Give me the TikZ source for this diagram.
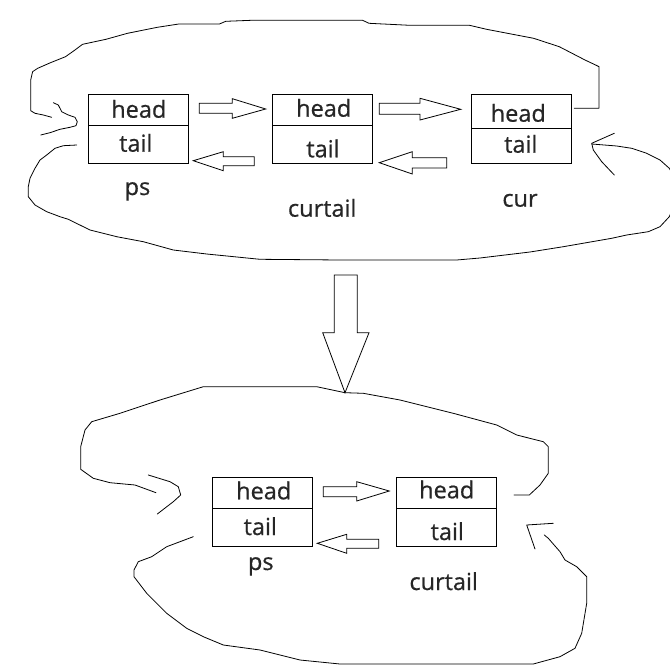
\documentclass[tikz,border=0pt]{standalone}
\usepackage{fontspec}
\setmainfont{Open Sans}[FakeBold=0.6]
\tikzset{
  cell/.style={draw, line width=0.8pt, minimum width=100pt, inner sep=0pt, outer sep=0pt},
  lbl/.style={anchor=base, inner sep=0pt, outer sep=0pt, text=black!85, font=\fontsize{23.5}{27}\selectfont},
  hand/.style={line width=0.8pt, line join=round, line cap=round},
  blockarrow/.style={draw, line width=0.8pt, line join=miter}
}
\begin{document}
\begin{tikzpicture}[x=1pt, y=-1pt]
\useasboundingbox (0,0) rectangle (670,669);
\fill[white] (0,0) rectangle (670,669);

% ---------- upper diagram: boxes ----------
\node[cell, minimum height=30.7pt, anchor=north west] (psH) at (88.3,94.3) {};
\node[cell, minimum height=38.3pt, anchor=north] (psT) at (psH.south) {};
\node[cell, minimum height=31.4pt, anchor=north west] (ctH) at (272.2,94.3) {};
\node[cell, minimum height=37.6pt, anchor=north] (ctT) at (ctH.south) {};
\node[cell, minimum height=34pt, anchor=north west] (cuH) at (471.5,94.3) {};
\node[cell, minimum height=35pt, anchor=north] (cuT) at (cuH.south) {};

\node[lbl] (psHt) at (138.8,117.7) {head};
\node[lbl] (psTt) at (135.8,151.7) {tail};
\node[lbl] (psL)  at (137.5,195) {ps};
\node[lbl] (ctHt) at (323.7,116.7) {head};
\node[lbl] (ctTt) at (323,157.3) {tail};
\node[lbl] (ctL)  at (322.2,216.7) {curtail};
\node[lbl] (cuHt) at (518.3,121.7) {head};
\node[lbl] (cuTt) at (520.8,152.7) {tail};
\node[lbl] (cuL)  at (520,206.7) {cur};

% block arrows (upper)
\draw[blockarrow] (199.3,103.3) -- (232.3,103.3) -- (232.3,98.7) -- (265.7,109) -- (232.3,118.3) -- (232.3,113.3) -- (199.3,113.3) -- cycle;
\draw[blockarrow] (254.3,156.7) -- (223.3,156.7) -- (223.3,151.7) -- (193.3,160.7) -- (223.3,170.7) -- (223.3,165.7) -- (254.3,165.7) -- cycle;
\draw[blockarrow] (379.3,103.3) -- (420,103.3) -- (420,98.3) -- (460.7,109.3) -- (420,120) -- (420,114.3) -- (379.3,114.3) -- cycle;
\draw[blockarrow] (446.7,157.7) -- (412.3,157.7) -- (412.3,151.7) -- (379.3,162.7) -- (412.3,174) -- (412.3,168) -- (446.7,168) -- cycle;

% freehand loops (upper)
\coordinate (topstart) at (574.3,108.3);
\coordinate (topend) at (51.7,117.3);
\draw[hand] (topstart) -- (599,108.3) -- (599,66.7) -- (595.6,65) -- (585,60) -- (559.3,46.7) -- (533.6,38.3)
  -- (486.6,29.3) -- (469.5,25.3) -- (409.7,25.3) -- (369,23.3) -- (362.6,20.3) -- (251.5,20.3) -- (225.8,21.3)
  -- (219.4,24) -- (178.8,24) -- (157.4,27.3) -- (127.5,33.3) -- (106,39.3) -- (82.6,44.3) -- (74,50.7)
  -- (65.5,56.7) -- (50.5,62.7) -- (37.7,68.3) -- (32.6,71.7) -- (30.7,80) -- (30.7,110.7) -- (35,113.3)
  -- (43.3,115) -- (topend);
\draw[hand] (53.3,102.7) -- (58.3,105) -- (61.7,111.7) -- (68.3,115) -- (75,117.3) -- (77.3,121.7) -- (76,125.7)
  -- (70,127.3) -- (60,129.3) -- (50,132.7) -- (40.7,135);

\coordinate (botstart) at (76.7,145);
\coordinate (botend) at (591.7,144);
\begin{scope}
\clip (0,0) rectangle (670,669);
\draw[hand] (botstart) -- (63.3,145.7) -- (55,148.3) -- (46.7,155) -- (40,160) -- (35,168.3) -- (30,178.3)
  -- (28.3,186.7) -- (28.3,196.7) -- (35,205) -- (46.7,211.7) -- (60,216.7) -- (68.3,219.3) -- (90,230)
  -- (116.7,236.7) -- (143.3,241.7) -- (173.3,250) -- (206.7,254) -- (260,259.3) -- (340,260) -- (456.7,260)
  -- (480,258) -- (530,252) -- (563.3,246.7) -- (611.7,238.3) -- (626.7,235) -- (648.3,231.7) -- (660,226.7)
  -- (669.3,216.7) -- (676,200) -- (676,180) -- (669.3,168.3) -- (660,160) -- (646.7,153.3) -- (631.7,148.3)
  -- (616.7,146) -- (botend);
\end{scope}
\draw[hand] (614.3,133.3) -- (591.7,143.3) -- (593.3,150) -- (601.7,161.7) -- (614.3,175);

% ---------- big down arrow ----------
\draw[blockarrow] (334.3,275) -- (357.3,275) -- (357.3,332.7) -- (369,332.7) -- (345,392.7) -- (322.7,332.7) -- (334.3,332.7) -- cycle;

% ---------- lower diagram: boxes ----------
\node[cell, minimum height=31pt, anchor=north west] (ps2H) at (212.3,477.3) {};
\node[cell, minimum height=38pt, anchor=north] (ps2T) at (ps2H.south) {};
\node[cell, minimum height=31pt, anchor=north west] (ct2H) at (396.7,477.3) {};
\node[cell, minimum height=38pt, anchor=north] (ct2T) at (ct2H.south) {};

\node[lbl] (ps2Ht) at (263.7,499.3) {head};
\node[lbl] (ps2Tt) at (260.3,535) {tail};
\node[lbl] (ps2L)  at (260.8,570) {ps};
\node[lbl] (ct2Ht) at (446.7,498.3) {head};
\node[lbl] (ct2Tt) at (447.3,540) {tail};
\node[lbl] (ct2L)  at (443.7,590) {curtail};

% block arrows (lower)
\draw[blockarrow] (323.3,486.7) -- (356.7,486.7) -- (356.7,481.7) -- (389.3,491) -- (356.7,501) -- (356.7,496.7) -- (323.3,496.7) -- cycle;
\draw[blockarrow] (378.7,539.3) -- (346.7,539.3) -- (346.7,534.3) -- (317.3,543.3) -- (346.7,553.3) -- (346.7,548.3) -- (378.7,548.3) -- cycle;

% freehand loops (lower)
\coordinate (ltop) at (345,392.7);
\coordinate (ltopend) at (156,492.7);
\coordinate (rtopend) at (514,495);
\draw[hand] (rtopend) -- (529.3,495) -- (540,485) -- (548.3,473.3) -- (548.3,446.7) -- (543.3,441.7) -- (516.7,435)
  -- (496.7,425) -- (453.3,413.3) -- (400,400) -- (363.3,393.3) -- (ltop) -- (316.7,386.7) -- (203.3,386.7)
  -- (160,400) -- (120,413.3) -- (91.7,421.7) -- (85,430) -- (80.7,446.7) -- (80.7,469.3) -- (93.3,478.3)
  -- (110,482.7) -- (135,485) -- (ltopend);
\draw[hand] (148.3,475) -- (170,481.7) -- (178.3,486.7) -- (180.7,495) -- (173.3,501.7) -- (157.3,514);

\coordinate (lbotstart) at (193.3,536.7);
\coordinate (lbotend) at (544.3,535);
\draw[hand] (lbotstart) -- (166.7,546.7) -- (151.7,556.7) -- (138.3,561.7) -- (134,570) -- (134,576.7)
  -- (146.7,593.3) -- (166.7,613.3) -- (186.7,628.3) -- (203.3,636.7) -- (223.3,645) -- (260,650) -- (300,660)
  -- (340,664) -- (533.3,664) -- (560,656.7) -- (575,648.3) -- (581.7,633.3) -- (586.7,603.3) -- (586.7,576.7)
  -- (576.7,566.7) -- (565,560) -- (560,551.7) -- (548.3,538.3) -- (lbotend);
\draw[hand] (553.3,523.3) -- (526.7,525) -- (535,549);
\end{tikzpicture}
\end{document}
